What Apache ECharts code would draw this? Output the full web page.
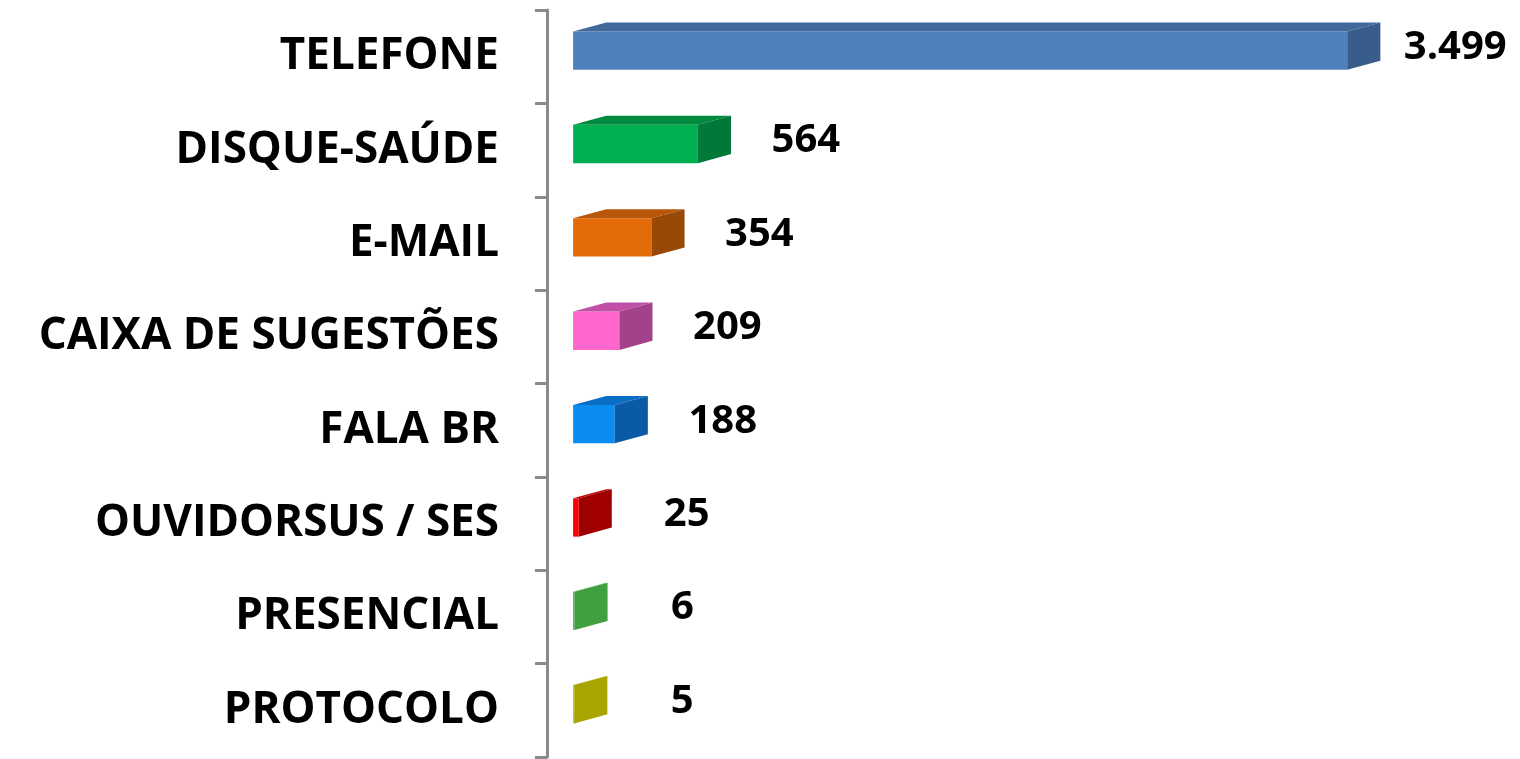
<!DOCTYPE html>
<html>
<head>
<meta charset="utf-8">
<script src="https://cdn.jsdelivr.net/npm/echarts@6/dist/echarts.min.js"></script>
<style>
    html, body { margin: 0; padding: 0; background: #fff; }
    #chart { width: 1520px; height: 759px; }
</style>
</head>
<body>
<div id="chart"></div>
<script>
// canais de atendimento (de cima para baixo)
const categorias = ['TELEFONE', 'DISQUE-SAÚDE', 'E-MAIL', 'CAIXA DE SUGESTÕES', 'FALA BR', 'OUVIDORSUS / SES', 'PRESENCIAL', 'PROTOCOLO'];
const valores = [3499, 564, 354, 209, 188, 25, 6, 5];

// cores: face frontal, topo e lateral de cada barra
const coresFrente = ['#4f81bd', '#00b050', '#e36c09', '#ff66cc', '#0a8cf0', '#ff0000', '#4aae4a', '#c4c000'];
const coresTopo = ['#41699c', '#008a3e', '#b85708', '#c24fa6', '#0a6fc4', '#c00000', '#46a846', '#b0ac00'];
const coresLado = ['#385d8a', '#00783a', '#984807', '#a3428a', '#0a5aa8', '#a00000', '#40a040', '#a8a400'];

function formatarNumero(v) {
    return String(v).replace(/\B(?=(\d{3})+(?!\d))/g, '.');
}

function renderBarra3d(params, api) {
    const i = params.dataIndex;
    const inicio = api.coord([0, api.value(1)]);
    const fim = api.coord([api.value(0), api.value(1)]);
    const banda = api.size([0, 1])[1];

    const altura = banda * 0.41;
    const dx = banda * 0.355;
    const dy = -banda * 0.097;
    const cy = inicio[1] - banda * 0.065;
    const x0 = inicio[0];
    const x1 = Math.max(fim[0], x0 + 1);
    const y0 = cy - altura / 2;
    const y1 = cy + altura / 2;

    return {
        type: 'group',
        children: [
            {
                type: 'rect',
                shape: { x: x0, y: y0, width: x1 - x0, height: altura },
                style: { fill: coresFrente[i] }
            },
            {
                type: 'polygon',
                shape: { points: [[x0, y0], [x1, y0], [x1 + dx, y0 + dy], [x0 + dx, y0 + dy]] },
                style: { fill: coresTopo[i] }
            },
            {
                type: 'polygon',
                shape: { points: [[x1, y0], [x1 + dx, y0 + dy], [x1 + dx, y1 + dy], [x1, y1]] },
                style: { fill: coresLado[i] }
            },
            {
                type: 'text',
                style: {
                    x: x1 + 108,
                    y: cy - 3,
                    text: formatarNumero(api.value(0)),
                    fill: '#000',
                    font: 'bold 40px "Open Sans"',
                    align: 'center',
                    verticalAlign: 'middle'
                }
            }
        ]
    };
}

const chart = echarts.init(document.getElementById('chart'));

const option = {
    backgroundColor: '#fff',
    animation: false,
    grid: { left: 547, right: 0, top: 10, bottom: 2, containLabel: false },
    xAxis: {
        type: 'value',
        min: -118,
        max: 4280,
        show: false
    },
    yAxis: {
        type: 'category',
        inverse: true,
        data: categorias,
        axisLine: { show: true, onZero: false, lineStyle: { color: '#8a8a8a', width: 3 } },
        axisTick: { show: true, length: 12, lineStyle: { color: '#8a8a8a', width: 3 } },
        axisLabel: {
            margin: 48,
            color: '#000',
            fontFamily: 'Open Sans',
            fontWeight: 'bold',
            fontSize: 44
        },
        splitLine: { show: false }
    },
    series: [
        {
            type: 'custom',
            renderItem: renderBarra3d,
            encode: { x: 0, y: 1 },
            data: valores.map((v, i) => [v, i])
        }
    ]
};

chart.setOption(option);
</script>
</body>
</html>
